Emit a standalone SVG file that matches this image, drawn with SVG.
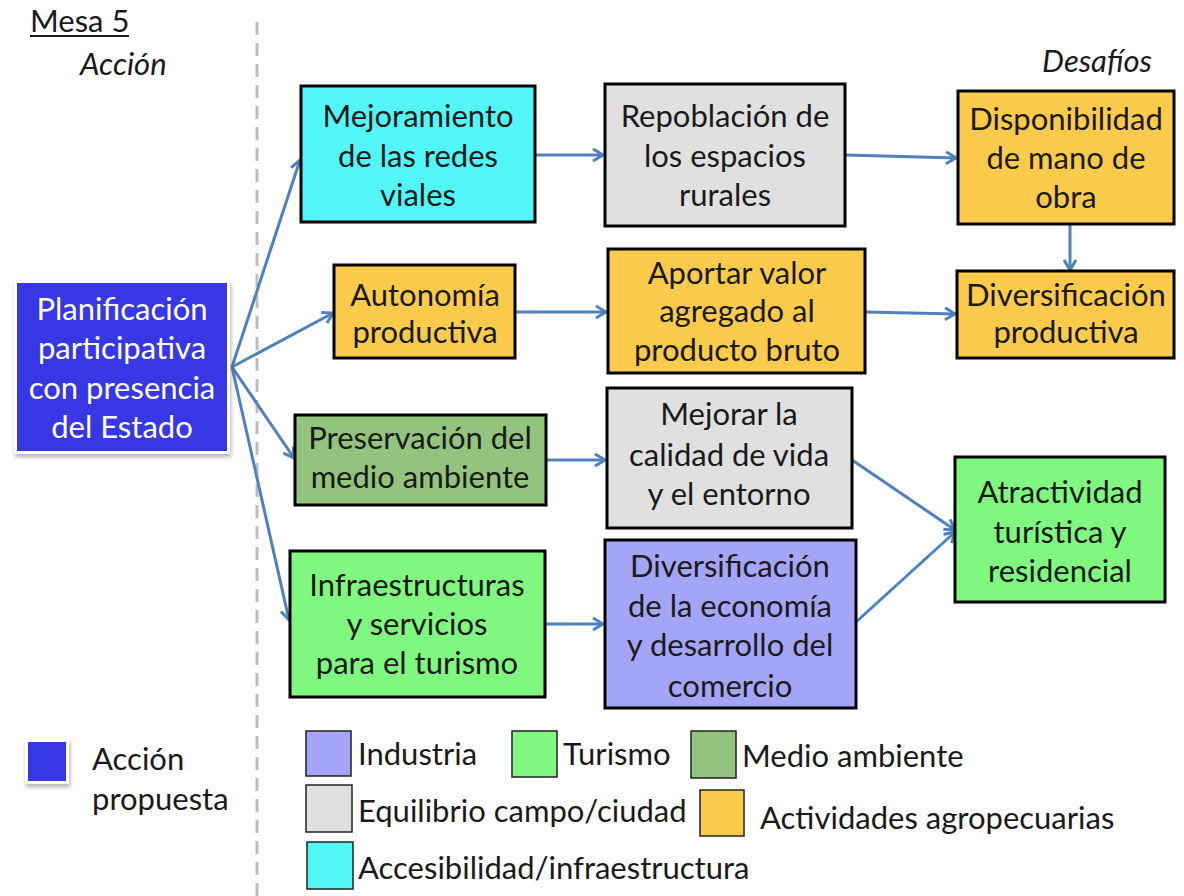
<svg xmlns="http://www.w3.org/2000/svg" width="1184" height="896" viewBox="0 0 1184 896">
<style>
text{font-family:Lato,"Open Sans","Liberation Sans",sans-serif;font-size:31px;fill:#1a1a1a}
.c{text-anchor:middle}
.w{fill:#ffffff}
.it{font-style:italic}
.box{stroke:#000;stroke-width:3}
.lg{stroke:#222;stroke-width:1.5}
.cn{stroke:#4f81bd;stroke-width:3;fill:none;marker-end:url(#ah)}
</style>
<defs>
<marker id="ah" markerUnits="userSpaceOnUse" markerWidth="16" markerHeight="16" refX="12" refY="7" orient="auto">
<path d="M2,1 L12,7 L2,13" fill="none" stroke="#4f81bd" stroke-width="3"/>
</marker>
<filter id="sh" x="-10%" y="-10%" width="130%" height="130%">
<feDropShadow dx="1" dy="3" stdDeviation="2" flood-color="#000" flood-opacity="0.3"/>
</filter>
</defs>
<rect width="1184" height="896" fill="#ffffff"/>
<line x1="257" y1="22" x2="257" y2="896" stroke="#bdbdbd" stroke-width="3" stroke-dasharray="13 8"/>
<g id="header">
<text x="30" y="32">Mesa 5</text>
<line x1="30" y1="36" x2="129" y2="36" stroke="#1a1a1a" stroke-width="2"/>
<text x="80" y="75" class="it">Acción</text>
<text x="1152" y="72" class="it" text-anchor="end">Desafíos</text>
</g>
<g id="connectors">
<path class="cn" d="M232,367 L300,160"/>
<path class="cn" d="M232,367 L333,313"/>
<path class="cn" d="M232,367 L294,458"/>
<path class="cn" d="M232,367 L289,620"/>
<path class="cn" d="M536,155 L603,155"/>
<path class="cn" d="M846,155 L956,158"/>
<path class="cn" d="M1070,225 L1070,270"/>
<path class="cn" d="M516,312 L606,312"/>
<path class="cn" d="M866,312 L955,314"/>
<path class="cn" d="M547,460 L605,460"/>
<path class="cn" d="M546,624 L603,624"/>
<path class="cn" d="M852,460 L955,530"/>
<path class="cn" d="M856,622 L955,532"/>
</g>
<g id="n-planificacion">
<rect x="14" y="280" width="216" height="174" fill="#ffffff" filter="url(#sh)"/>
<rect x="17" y="283" width="210" height="168" fill="#3737e6"/>
<text class="c w" x="122" y="320">Planificación</text>
<text class="c w" x="122" y="359">participativa</text>
<text class="c w" x="122" y="399">con presencia</text>
<text class="c w" x="122" y="438">del Estado</text>
</g>
<g id="n-mejoramiento">
<rect class="box" x="301" y="86" width="234" height="136" fill="#52f6f6"/>
<text class="c" x="418" y="127">Mejoramiento</text>
<text class="c" x="418" y="167">de las redes</text>
<text class="c" x="418" y="206">viales</text>
</g>
<g id="n-repoblacion">
<rect class="box" x="605" y="84" width="240" height="142" fill="#e0e0e0"/>
<text class="c" x="725" y="127">Repoblación de</text>
<text class="c" x="725" y="167">los espacios</text>
<text class="c" x="725" y="206">rurales</text>
</g>
<g id="n-disponibilidad">
<rect class="box" x="958" y="91" width="216" height="133" fill="#fdcb4c"/>
<text class="c" x="1066" y="130">Disponibilidad</text>
<text class="c" x="1066" y="169">de mano de</text>
<text class="c" x="1066" y="208">obra</text>
</g>
<g id="n-autonomia">
<rect class="box" x="334" y="265" width="181" height="93" fill="#fdcb4c"/>
<text class="c" x="425" y="306">Autonomía</text>
<text class="c" x="425" y="343">productiva</text>
</g>
<g id="n-aportar">
<rect class="box" x="608" y="249" width="257" height="124" fill="#fdcb4c"/>
<text class="c" x="737" y="284">Aportar valor</text>
<text class="c" x="737" y="322">agregado al</text>
<text class="c" x="737" y="361">producto bruto</text>
</g>
<g id="n-diversificacion-productiva">
<rect class="box" x="957" y="271" width="217" height="87" fill="#fdcb4c"/>
<text class="c" x="1066" y="306">Diversificación</text>
<text class="c" x="1066" y="343">productiva</text>
</g>
<g id="n-preservacion">
<rect class="box" x="295" y="415" width="251" height="90" fill="#93c47d"/>
<text class="c" x="420" y="449">Preservación del</text>
<text class="c" x="420" y="488">medio ambiente</text>
</g>
<g id="n-infraestructuras">
<rect class="box" x="290" y="551" width="255" height="146" fill="#80f880"/>
<text class="c" x="417" y="596">Infraestructuras</text>
<text class="c" x="417" y="635">y servicios</text>
<text class="c" x="417" y="674">para el turismo</text>
</g>
<g id="n-mejorar">
<rect class="box" x="607" y="388" width="245" height="140" fill="#e0e0e0"/>
<text class="c" x="729" y="425">Mejorar la</text>
<text class="c" x="729" y="466">calidad de vida</text>
<text class="c" x="729" y="505">y el entorno</text>
</g>
<g id="n-diversificacion-economia">
<rect class="box" x="605" y="540" width="251" height="168" fill="#a5a5f7"/>
<text class="c" x="730" y="577">Diversificación</text>
<text class="c" x="730" y="617">de la economía</text>
<text class="c" x="730" y="656">y desarrollo del</text>
<text class="c" x="730" y="697">comercio</text>
</g>
<g id="n-atractividad">
<rect class="box" x="955" y="457" width="210" height="145" fill="#80f880"/>
<text class="c" x="1060" y="503">Atractividad</text>
<text class="c" x="1060" y="543">turística y</text>
<text class="c" x="1060" y="582">residencial</text>
</g>
<g id="legend">
<rect x="25" y="739" width="44" height="45" fill="#ffffff" filter="url(#sh)"/>
<rect x="28" y="742" width="38" height="39" fill="#3737e6"/>
<text x="92" y="770">Acción</text>
<text x="92" y="810">propuesta</text>
<rect class="lg" x="306" y="731" width="45" height="45" fill="#a5a5f7"/>
<text x="358" y="765">Industria</text>
<rect class="lg" x="512" y="731" width="45" height="46" fill="#80f880"/>
<text x="563" y="765">Turismo</text>
<rect class="lg" x="691" y="731" width="45" height="47" fill="#93c47d"/>
<text x="742" y="767">Medio ambiente</text>
<rect class="lg" x="306" y="785" width="46" height="47" fill="#e0e0e0"/>
<text x="358" y="822">Equilibrio campo/ciudad</text>
<rect class="lg" x="700" y="790" width="44" height="46" fill="#fdcb4c"/>
<text x="760" y="829">Actividades agropecuarias</text>
<rect class="lg" x="307" y="842" width="46" height="47" fill="#52f6f6"/>
<text x="358" y="879">Accesibilidad/infraestructura</text>
</g>
</svg>
